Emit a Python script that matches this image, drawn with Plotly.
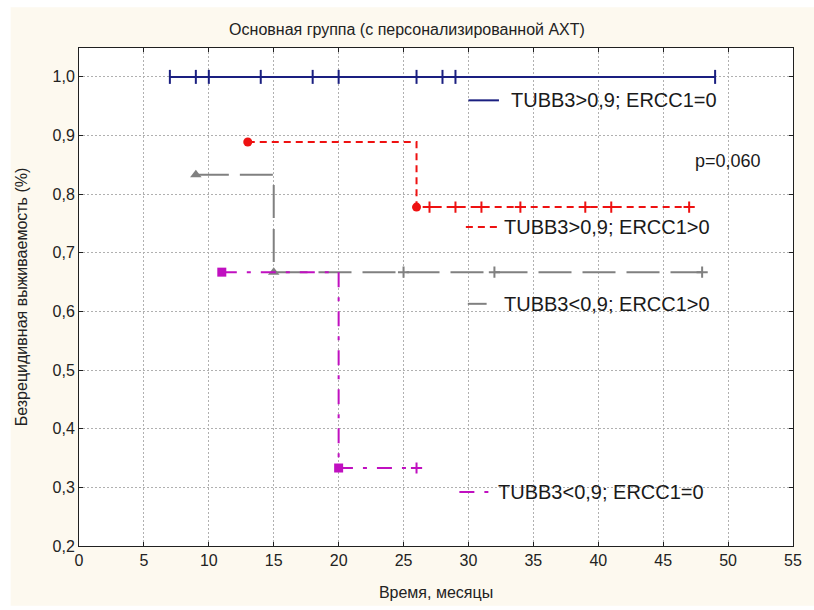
import plotly.graph_objects as go

# ---- data ----
x_ticks = [0, 5, 10, 15, 20, 25, 30, 35, 40, 45, 50, 55]
y_ticks = [0.2, 0.3, 0.4, 0.5, 0.6, 0.7, 0.8, 0.9, 1.0]
y_ticktext = ["0,2", "0,3", "0,4", "0,5", "0,6", "0,7", "0,8", "0,9", "1,0"]

g1_name = "TUBB3>0,9; ERCC1=0"
g1_t = [7, 49]
g1_s = [1.0, 1.0]
g1_event_t = []
g1_cens = [7, 9, 10, 14, 18, 20, 26, 28, 29, 49]

g2_name = "TUBB3>0,9; ERCC1>0"
g2_t = [13, 26, 47]
g2_s = [0.889, 0.778, 0.778]
g2_event_t = [13, 26]
g2_cens = [27, 29, 31, 34, 39, 41, 47]

g3_name = "TUBB3<0,9; ERCC1>0"
g3_t = [9, 15, 48]
g3_s = [0.833, 0.667, 0.667]
g3_event_t = [9, 15]
g3_cens = [25, 32, 48]

g4_name = "TUBB3<0,9; ERCC1=0"
g4_t = [11, 20, 26]
g4_s = [0.667, 0.333, 0.333]
g4_event_t = [11, 20]
g4_cens = [26]

p_text = "p=0,060"

FONT = "Liberation Sans, Arial, sans-serif"


def step_value(ts, ss, x):
    v = ss[0]
    for t, s in zip(ts, ss):
        if t <= x:
            v = s
    return v


groups = [
    dict(name=g1_name, t=g1_t, s=g1_s, ev=g1_event_t, cens=g1_cens,
         color="#1a1f80", dash="solid", sym=None,
         key=dict(x0=30.0, x1=32.35, y=0.96, tx=33.1, dash="solid")),
    dict(name=g2_name, t=g2_t, s=g2_s, ev=g2_event_t, cens=g2_cens,
         color="#ee1111", dash="7px,5px", sym="circle",
         key=dict(x0=29.8, x1=32.3, y=0.744, tx=32.55, dash="7px,5px")),
    dict(name=g3_name, t=g3_t, s=g3_s, ev=g3_event_t, cens=g3_cens,
         color="#808080", dash="33px,11px", sym="triangle-up",
         key=dict(x0=29.95, x1=31.4, y=0.613, tx=32.6, dash="solid")),
    dict(name=g4_name, t=g4_t, s=g4_s, ev=g4_event_t, cens=g4_cens,
         color="#c010c0", dash="15px,10px,4px,10px", sym="square",
         key=dict(x0=29.3, x1=31.75, y=0.292, tx=32.1, dash="15px,10px,4px,10px")),
]

fig = go.Figure()

for g in groups:
    # step curve
    fig.add_trace(go.Scatter(
        x=g["t"], y=g["s"], mode="lines", line_shape="hv",
        line=dict(color=g["color"], width=2, dash=g["dash"]),
        showlegend=False, hoverinfo="skip"))
    # censor marks
    cy = [step_value(g["t"], g["s"], c) for c in g["cens"]]
    if g["sym"] is None:
        msym, msize = "line-ns-open", 10
    else:
        msym, msize = "cross-thin-open", 8
    fig.add_trace(go.Scatter(
        x=g["cens"], y=cy, mode="markers",
        marker=dict(symbol=msym, size=msize, color=g["color"],
                    line=dict(color=g["color"], width=2)),
        showlegend=False, hoverinfo="skip"))
    # event marks
    if g["ev"]:
        ey = [step_value(g["t"], g["s"], e) for e in g["ev"]]
        fig.add_trace(go.Scatter(
            x=g["ev"], y=ey, mode="markers",
            marker=dict(symbol=g["sym"], size=10 if g["sym"] == "triangle-up" else 9,
                        color=g["color"]),
            showlegend=False, hoverinfo="skip"))
    # legend key line and label
    k = g["key"]
    fig.add_trace(go.Scatter(
        x=[k["x0"], k["x1"]], y=[k["y"], k["y"]], mode="lines",
        line=dict(color=g["color"], width=2, dash=k["dash"]),
        showlegend=False, hoverinfo="skip"))
    fig.add_annotation(x=k["tx"], y=k["y"], text=g["name"], showarrow=False,
                       xanchor="left", yanchor="middle",
                       font=dict(family=FONT, size=20, color="#1a1a1a"))

fig.add_annotation(x=50.0, y=0.856, text=p_text, showarrow=False,
                   xanchor="center", yanchor="middle",
                   font=dict(family=FONT, size=18, color="#1a1a1a"))

# plot area: x 79..800, y 48..548 (px)
PW, PH = 721.0, 500.0
def px_x(px):
    return (px - 79) / PW
def px_y(py):
    return (548 - py) / PH

# white strips at picture edges
for x0, x1, y0, y1 in [(px_x(-20), px_x(830), px_y(7), px_y(-20)),
                       (px_x(-20), px_x(10), px_y(630), px_y(-20)),
                       (px_x(-20), px_x(830), px_y(630), px_y(608))]:
    fig.add_shape(type="rect", xref="paper", yref="paper", x0=x0, x1=x1, y0=y0, y1=y1,
                  fillcolor="white", line=dict(width=0), layer="below")

axis_common = dict(showline=True, linecolor="#202020", linewidth=1, mirror="ticks",
                   ticks="inside", ticklen=4, tickcolor="#202020",
                   showgrid=True, gridcolor="#b0b0b0", gridwidth=1, griddash="2px,2px",
                   zeroline=False, tickfont=dict(family=FONT, size=16, color="#222"))

fig.update_xaxes(range=[0, 55], tickvals=x_ticks, ticktext=[str(v) for v in x_ticks],
                 title=dict(text="Время, месяцы", font=dict(family=FONT, size=16, color="#222"),
                            standoff=18),
                 **axis_common)
fig.update_yaxes(range=[0.2, 0.2 + 500 / 588.75], tickvals=y_ticks, ticktext=y_ticktext,
                 title=dict(text="Безрецидивная выживаемость (%)",
                            font=dict(family=FONT, size=16, color="#222"), standoff=20),
                 **axis_common)

fig.update_layout(
    width=814, height=610,
    margin=dict(l=79, r=14, t=48, b=62),
    paper_bgcolor="#fdf9ef", plot_bgcolor="white",
    title=dict(text="Основная группа (с персонализированной АХТ)", x=0.5, xanchor="center",
               y=1 - 29 / 610, yanchor="middle",
               font=dict(family=FONT, size=16, color="#222")),
    showlegend=False,
)

fig.write_html("out.html")
